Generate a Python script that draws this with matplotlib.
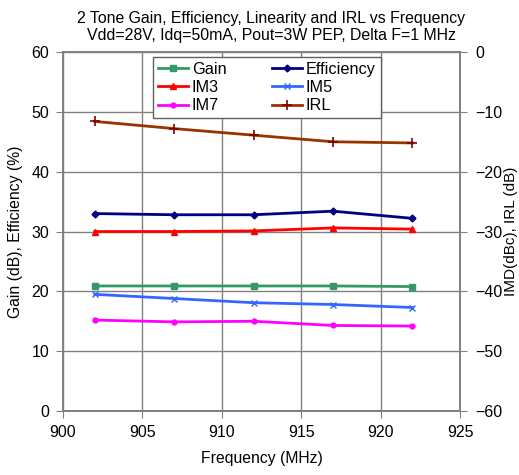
import matplotlib.pyplot as plt

# Frequency points (MHz)
freq = [902, 907, 912, 917, 922]

# left axis series
gain = [20.9, 20.9, 20.9, 20.9, 20.8]
efficiency = [33.0, 32.8, 32.8, 33.4, 32.2]

# right axis series (dBc / dB)
im3 = [-30.0, -30.0, -29.9, -29.4, -29.6]
im5 = [-40.5, -41.2, -41.9, -42.2, -42.7]
im7 = [-44.8, -45.1, -45.0, -45.7, -45.8]
irl = [-11.6, -12.8, -13.9, -15.0, -15.2]

plt.rcParams['font.family'] = ['Liberation Sans', 'DejaVu Sans']

fig = plt.figure(figsize=(5.19, 4.75), dpi=100)
ax = fig.add_axes([0.1214, 0.1347, 0.7650, 0.7558])
ax2 = ax.twinx()

ms = 4
h1, = ax.plot(freq, gain, color='#339966', marker='s', ms=ms, lw=2, label='Gain')
h2, = ax.plot(freq, efficiency, color='#000080', marker='D', ms=3.5, lw=2, label='Efficiency')
h3, = ax2.plot(freq, im3, color='#FF0000', marker='^', ms=ms, lw=2, label='IM3')
h4, = ax2.plot(freq, im5, color='#3366FF', marker='x', ms=ms, mew=1, lw=2, label='IM5')
h5, = ax2.plot(freq, im7, color='#FF00FF', marker='o', ms=3.5, lw=2, label='IM7')
h6, = ax2.plot(freq, irl, color='#993300', marker='+', ms=7, mec='#800000', mew=1.2, lw=2, label='IRL')

ax.set_xlim(900, 925)
ax.set_ylim(0, 60)
ax2.set_ylim(-60, 0)
ax.set_xticks(range(900, 926, 5))
ax.set_yticks(range(0, 61, 10))
ax2.set_yticks(range(-60, 1, 10))

ax.grid(True, color='#808080', lw=1)
for a in (ax, ax2):
    for s in a.spines.values():
        s.set_color('#808080')
        s.set_linewidth(1.2)
    a.tick_params(direction='out', length=5, color='#808080', labelsize=11.5, pad=5)
ax2.tick_params(pad=6)

ax.set_xlabel('Frequency (MHz)', fontsize=11.3, labelpad=8)
ax.set_ylabel('Gain (dB), Efficiency (%)', fontsize=11.3, labelpad=6)
ax2.set_ylabel('IMD(dBc), IRL (dB)', fontsize=11, labelpad=1)
ax.set_title('2 Tone Gain, Efficiency, Linearity and IRL vs Frequency\n'
             'Vdd=28V, Idq=50mA, Pout=3W PEP, Delta F=1 MHz',
             fontsize=11.4, pad=8.5, x=0.524)

# row-wise order like the original: Gain, Efficiency / IM3, IM5 / IM7, IRL
leg = ax2.legend(handles=[h1, h3, h5, h2, h4, h6], ncol=2, loc='upper center',
                 bbox_to_anchor=(0.513, 0.986), fontsize=11.7, fancybox=False,
                 edgecolor='#606060', framealpha=1, borderaxespad=0,
                 handlelength=1.85, handletextpad=0.25, columnspacing=2.8,
                 labelspacing=0.2, borderpad=0.3)
leg.get_frame().set_linewidth(1.0)

fig.savefig('out.png', dpi=100)
